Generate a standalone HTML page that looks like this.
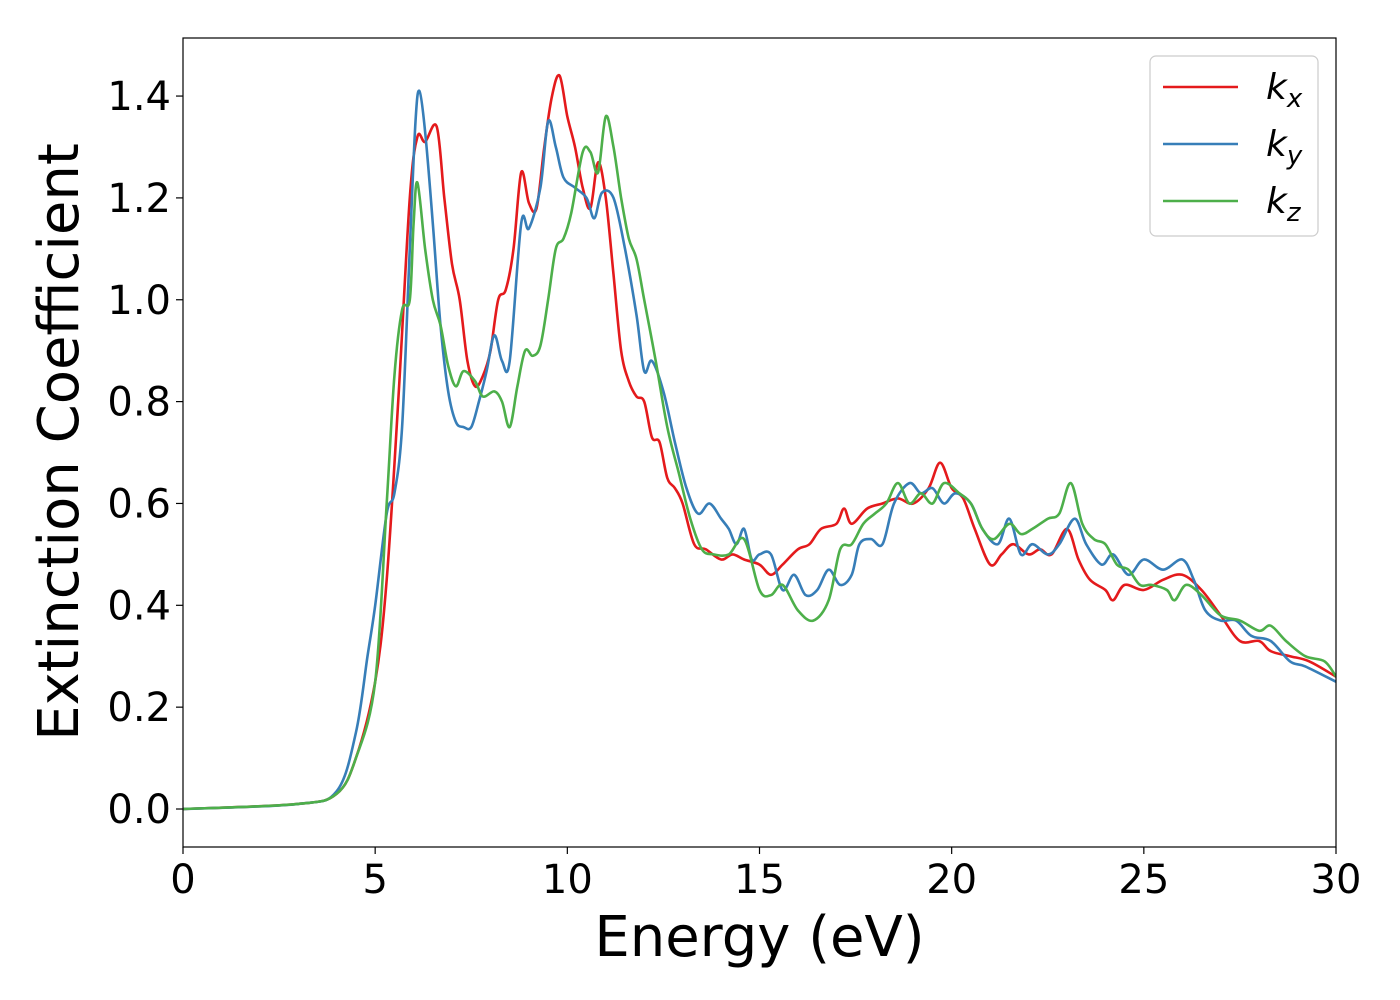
<!DOCTYPE html>
<html><head><meta charset="utf-8"><style>
html,body{margin:0;padding:0;background:#fff;}
svg{display:block;font-family:"DejaVu Sans","Liberation Sans",sans-serif;}
</style></head><body>
<svg id="chart" width="1400" height="1000" viewBox="0 0 1400 1000">
<rect x="0" y="0" width="1400" height="1000" fill="#fff"/>
<g id="plot"></g>
<g id="axes"></g>
<g id="legend"></g>
</svg>
<script>
const xTicks=[0,5,10,15,20,25,30];
const yTicks=[0.0,0.2,0.4,0.6,0.8,1.0,1.2,1.4];
const seriesNames=["kx","ky","kz"];
const kxData=[[0,0],[3,0.01],[4,0.03],[4.5,0.1],[5,0.25],[5.3,0.45],[5.6,0.8],[5.9,1.2],[6.1,1.32],[6.3,1.31],[6.6,1.34],[6.8,1.2],[7,1.07],[7.2,1.0],[7.4,0.88],[7.6,0.83],[7.8,0.85],[8,0.9],[8.2,1.0],[8.4,1.02],[8.6,1.1],[8.8,1.25],[9,1.19],[9.2,1.18],[9.4,1.3],[9.6,1.4],[9.8,1.44],[10,1.36],[10.2,1.3],[10.4,1.22],[10.6,1.18],[10.8,1.27],[11,1.2],[11.2,1.05],[11.4,0.9],[11.6,0.84],[11.8,0.81],[12,0.8],[12.2,0.73],[12.4,0.72],[12.6,0.65],[12.8,0.63],[13,0.6],[13.3,0.52],[13.6,0.51],[14,0.49],[14.3,0.5],[14.6,0.49],[15,0.48],[15.3,0.46],[15.6,0.48],[16,0.51],[16.3,0.52],[16.6,0.55],[17,0.56],[17.2,0.59],[17.4,0.56],[17.8,0.59],[18.2,0.6],[18.6,0.61],[19,0.6],[19.4,0.63],[19.7,0.68],[20,0.63],[20.3,0.61],[20.6,0.55],[21,0.48],[21.3,0.5],[21.6,0.52],[22,0.5],[22.3,0.51],[22.6,0.5],[23,0.55],[23.3,0.49],[23.6,0.45],[24,0.43],[24.2,0.41],[24.5,0.44],[25,0.43],[25.5,0.45],[26,0.46],[26.5,0.43],[27,0.38],[27.5,0.33],[28,0.33],[28.3,0.31],[28.8,0.3],[29.3,0.29],[30,0.26]];
const kyData=[[0,0],[3,0.01],[4,0.035],[4.5,0.15],[4.8,0.3],[5,0.4],[5.3,0.58],[5.5,0.62],[5.7,0.75],[5.9,1.1],[6.05,1.35],[6.15,1.41],[6.3,1.33],[6.5,1.15],[6.7,0.95],[6.9,0.82],[7.1,0.76],[7.3,0.75],[7.5,0.75],[7.7,0.8],[7.9,0.86],[8.1,0.93],[8.3,0.88],[8.5,0.88],[8.8,1.15],[9,1.14],[9.3,1.22],[9.5,1.35],[9.7,1.3],[9.9,1.24],[10.2,1.22],[10.5,1.2],[10.7,1.16],[10.9,1.21],[11.2,1.2],[11.5,1.1],[11.8,0.97],[12,0.86],[12.2,0.88],[12.5,0.82],[12.8,0.72],[13.1,0.63],[13.4,0.58],[13.7,0.6],[14,0.57],[14.2,0.55],[14.4,0.52],[14.6,0.55],[14.8,0.49],[15,0.5],[15.3,0.5],[15.6,0.43],[15.9,0.46],[16.2,0.42],[16.5,0.43],[16.8,0.47],[17.1,0.44],[17.4,0.46],[17.6,0.52],[17.9,0.53],[18.2,0.52],[18.5,0.6],[18.9,0.64],[19.2,0.62],[19.5,0.63],[19.8,0.6],[20.1,0.62],[20.5,0.6],[20.8,0.55],[21.2,0.52],[21.5,0.57],[21.8,0.5],[22.1,0.52],[22.5,0.5],[22.8,0.52],[23.2,0.57],[23.5,0.52],[23.9,0.48],[24.2,0.5],[24.6,0.46],[25,0.49],[25.5,0.47],[26,0.49],[26.3,0.45],[26.6,0.39],[27,0.37],[27.4,0.37],[27.8,0.34],[28.3,0.33],[28.8,0.29],[29.2,0.28],[30,0.25]];
const kzData=[[0,0],[3,0.01],[4,0.03],[4.5,0.1],[5,0.25],[5.3,0.6],[5.5,0.85],[5.7,0.98],[5.9,1.0],[6,1.15],[6.1,1.23],[6.3,1.1],[6.5,1.0],[6.7,0.95],[6.9,0.87],[7.1,0.83],[7.3,0.86],[7.6,0.84],[7.8,0.81],[8.1,0.82],[8.3,0.8],[8.5,0.75],[8.7,0.83],[8.9,0.9],[9.1,0.89],[9.3,0.91],[9.5,1.0],[9.7,1.1],[9.9,1.12],[10.1,1.17],[10.4,1.29],[10.6,1.29],[10.8,1.25],[11,1.36],[11.2,1.3],[11.4,1.2],[11.6,1.12],[11.8,1.08],[12,1.0],[12.3,0.88],[12.6,0.75],[12.9,0.66],[13.2,0.57],[13.5,0.51],[13.8,0.5],[14.2,0.5],[14.6,0.53],[15,0.43],[15.3,0.42],[15.6,0.44],[16,0.39],[16.4,0.37],[16.8,0.41],[17.1,0.51],[17.4,0.52],[17.7,0.56],[18,0.58],[18.3,0.6],[18.6,0.64],[18.9,0.6],[19.2,0.62],[19.5,0.6],[19.8,0.64],[20.2,0.62],[20.5,0.6],[20.8,0.55],[21.1,0.53],[21.5,0.56],[21.8,0.54],[22.1,0.55],[22.5,0.57],[22.8,0.58],[23.1,0.64],[23.4,0.56],[23.7,0.53],[24,0.52],[24.3,0.48],[24.6,0.47],[24.9,0.44],[25.2,0.44],[25.6,0.43],[25.8,0.41],[26.1,0.44],[26.5,0.42],[27,0.38],[27.5,0.37],[28,0.35],[28.3,0.36],[28.7,0.33],[29.2,0.3],[29.7,0.29],[30,0.26]];

const NS="http://www.w3.org/2000/svg";
const L=183,R=1336,T=38,B=847;
const xMin=0,xMax=30,yMin=-0.0746,yMax=1.514;
function sx(v){return L+(v-xMin)/(xMax-xMin)*(R-L);}
function sy(v){return B-(v-yMin)/(yMax-yMin)*(B-T);}
function mk(tag,attrs,parent){const e=document.createElementNS(NS,tag);for(const k in attrs)e.setAttribute(k,attrs[k]);parent.appendChild(e);return e;}
function smoothPath(d){
  const p=d.map(q=>[sx(q[0]),sy(q[1])]);
  let s="M"+p[0][0].toFixed(1)+","+p[0][1].toFixed(1);
  for(let i=0;i<p.length-1;i++){
    const p0=p[Math.max(0,i-1)],p1=p[i],p2=p[i+1],p3=p[Math.min(p.length-1,i+2)];
    const c1=[p1[0]+(p2[0]-p0[0])/6,p1[1]+(p2[1]-p0[1])/6];
    const c2=[p2[0]-(p3[0]-p1[0])/6,p2[1]-(p3[1]-p1[1])/6];
    s+="C"+c1[0].toFixed(1)+","+c1[1].toFixed(1)+" "+c2[0].toFixed(1)+","+c2[1].toFixed(1)+" "+p2[0].toFixed(1)+","+p2[1].toFixed(1);
  }
  return s;
}
const plot=document.getElementById('plot');
const colors=["#e41a1c","#377eb8","#4daf4a"];
const datas=[kxData,kyData,kzData];
const clip=mk('clipPath',{id:'pc'},plot);
mk('rect',{x:L,y:T,width:R-L,height:B-T},clip);
datas.forEach((d,i)=>{
  const p=mk('path',{d:smoothPath(d),fill:'none',stroke:colors[i],'stroke-width':2.6,'stroke-linejoin':'round','clip-path':'url(#pc)'},plot);
  
  
});
const axes=document.getElementById('axes');
const frame=mk('rect',{x:L,y:T,width:R-L,height:B-T,fill:'none',stroke:'#000','stroke-width':1.2},axes);


xTicks.forEach(v=>{
  const x=sx(v);
  mk('line',{x1:x,y1:B,x2:x,y2:B+7,stroke:'#000','stroke-width':1.2},axes);
  const t=mk('text',{x:x,y:B+46,'text-anchor':'middle','font-size':40},axes);
  t.textContent=String(v);
  
  
});
yTicks.forEach(v=>{
  const y=sy(v);
  mk('line',{x1:L-7,y1:y,x2:L,y2:y,stroke:'#000','stroke-width':1.2},axes);
  const t=mk('text',{x:L-12,y:y+14,'text-anchor':'end','font-size':40},axes);
  t.textContent=v.toFixed(1);
  
  
});
const xt=mk('text',{x:(L+R)/2,y:956,'text-anchor':'middle','font-size':56},axes);
xt.textContent="Energy (eV)";


const yt=mk('text',{x:0,y:0,'text-anchor':'middle','font-size':56,transform:'translate(78,442) rotate(-90)'},axes);
yt.textContent="Extinction Coefficient";


const leg=document.getElementById('legend');
const lb=mk('rect',{x:1150,y:56,width:168,height:180,rx:6,fill:'#fff',stroke:'#ccc','stroke-width':1.2},leg);


const subs=["x","y","z"];
seriesNames.forEach((n,i)=>{
  const y=87+i*57;
  const ln=mk('line',{x1:1163,y1:y,x2:1238,y2:y,stroke:colors[i],'stroke-width':2.6},leg);
  
  
  const t=mk('text',{x:1266,y:y+12,'font-size':36,'font-style':'italic'},leg);
  
  
  const a=document.createElementNS(NS,'tspan');a.textContent="k";t.appendChild(a);
  const b=document.createElementNS(NS,'tspan');b.setAttribute('font-size','26');b.setAttribute('dy','8');b.textContent=subs[i];t.appendChild(b);
});
</script>
</body></html>
